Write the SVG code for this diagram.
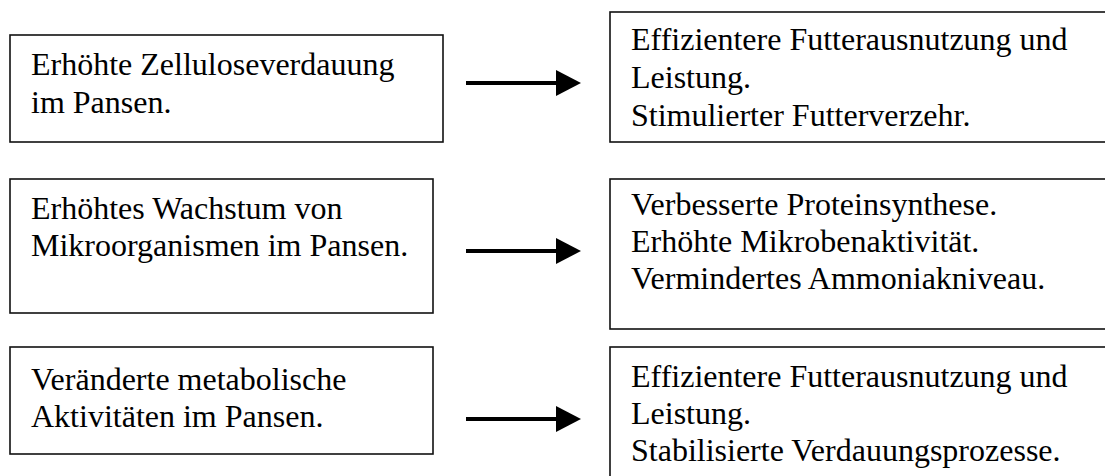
<svg xmlns="http://www.w3.org/2000/svg" width="1105" height="476" viewBox="0 0 1105 476">
<style>
  .box { fill: #fff; stroke: #111; stroke-width: 1.6; }
  .t { font-family: "Liberation Serif", "Times New Roman", serif; font-size: 32px; fill: #000; }
  .arrow { stroke: #000; stroke-width: 4; fill: none; marker-end: url(#head); }
</style>
<defs>
  <marker id="head" markerUnits="userSpaceOnUse" markerWidth="25" markerHeight="26" viewBox="0 0 25 26" refX="1" refY="13" orient="auto">
    <path d="M0,0 L25,13 L0,26 Z" fill="#000"/>
  </marker>
</defs>
<rect width="1105" height="476" fill="#fff"/>

<g id="node-l1">
  <rect class="box" x="10" y="35" width="433" height="107"/>
  <text class="t" x="31" y="75">Erhöhte Zelluloseverdauung</text>
  <text class="t" x="31" y="113">im Pansen.</text>
</g>
<g id="node-r1">
  <rect class="box" x="610" y="12" width="510" height="130"/>
  <text class="t" x="631" y="50">Effizientere Futterausnutzung und</text>
  <text class="t" x="631" y="88">Leistung.</text>
  <text class="t" x="631" y="126">Stimulierter Futterverzehr.</text>
</g>
<g id="node-l2">
  <rect class="box" x="10" y="179" width="423" height="134"/>
  <text class="t" x="31" y="219">Erhöhtes Wachstum von</text>
  <text class="t" x="31" y="256">Mikroorganismen im Pansen.</text>
</g>
<g id="node-r2">
  <rect class="box" x="610" y="179" width="510" height="150"/>
  <text class="t" x="631" y="215">Verbesserte Proteinsynthese.</text>
  <text class="t" x="631" y="252">Erhöhte Mikrobenaktivität.</text>
  <text class="t" x="631" y="289">Vermindertes Ammoniakniveau.</text>
</g>
<g id="node-l3">
  <rect class="box" x="10" y="347" width="423" height="107"/>
  <text class="t" x="31" y="390">Veränderte metabolische</text>
  <text class="t" x="31" y="427">Aktivitäten im Pansen.</text>
</g>
<g id="node-r3">
  <rect class="box" x="610" y="347" width="510" height="150"/>
  <text class="t" x="631" y="387">Effizientere Futterausnutzung und</text>
  <text class="t" x="631" y="424">Leistung.</text>
  <text class="t" x="631" y="461">Stabilisierte Verdauungsprozesse.</text>
</g>

<g id="connectors">
  <line class="arrow" x1="466" y1="83" x2="557" y2="83"/>
  <line class="arrow" x1="466" y1="251" x2="557" y2="251"/>
  <line class="arrow" x1="466" y1="419" x2="557" y2="419"/>
</g>
</svg>
